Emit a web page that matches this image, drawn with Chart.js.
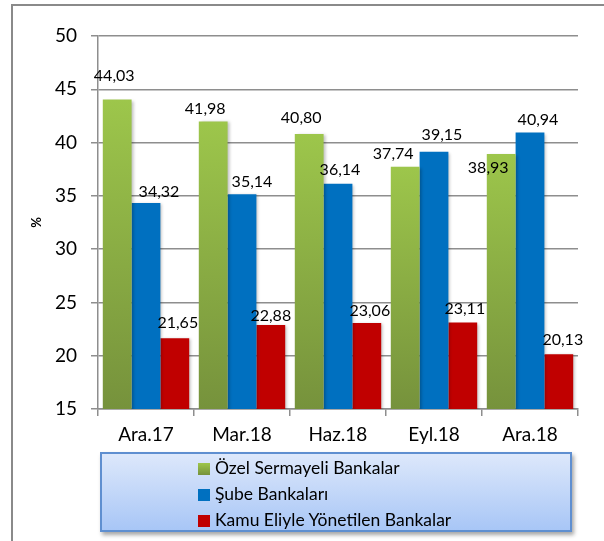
<!DOCTYPE html>
<html>
<head>
<meta charset="utf-8">
<script src="https://cdn.jsdelivr.net/npm/chart.js@4"></script>
<style>
  html, body { margin: 0; padding: 0; background: #fff; }
  #wrap { position: relative; width: 604px; height: 541px; overflow: hidden; font-family: Lato, sans-serif; }
  #frame { position: absolute; left: 11px; top: 4px; right: -4px; bottom: -4px; border-left: 2px solid #8a8a8a; border-top: 2px solid #8a8a8a; }
  #chart { position: absolute; left: 0; top: 0; }
  #legend {
    position: absolute; left: 100px; top: 452px; width: 468px; height: 76px;
    border: 2px solid #5f8fd0; background: linear-gradient(to bottom, #dde8fb, #a8c6f6);
    box-shadow: 2px 3px 4px rgba(0,0,0,0.35);
  }
  #legend .item { position: absolute; left: 96px; height: 26px; line-height: 26px; font-size: 17.5px; color: #000; white-space: nowrap; }
  #legend .sw { display: inline-block; width: 12px; height: 12px; margin-right: 5px; vertical-align: -1px; }
</style>
</head>
<body>
<div id="wrap">
  <div id="frame"></div>
  <canvas id="chart" width="604" height="541"></canvas>
  <div id="legend"></div>
</div>
<script>
const categories = ['Ara.17', 'Mar.18', 'Haz.18', 'Eyl.18', 'Ara.18'];
const ozelValues = [44.03, 41.98, 40.80, 37.74, 38.93];
const subeValues = [34.32, 35.14, 36.14, 39.15, 40.94];
const kamuValues = [21.65, 22.88, 23.06, 23.11, 20.13];
const seriesNames = ['Özel Sermayeli Bankalar', 'Şube Bankaları', 'Kamu Eliyle Yönetilen Bankalar'];

// label nudges [dx, rise above bar top], like the hand-placed excel labels
const labelNudge = [
    [[-3, 24], [-8, 13], [-8, 16], [-12, 13], [-13, -14]],
    [[13, 11], [10, 13], [2, 14], [8, 17], [8, 13]],
    [[3, 15], [0, 9], [3, 12], [2, 14], [4, 14]]
];

const fmt = v => v.toFixed(2).replace('.', ',');

function greenFill(c) {
    const chart = c.chart;
    if (!chart.chartArea || c.type !== 'data') return '#8fb24a';
    const y = chart.scales.y;
    const g = chart.ctx.createLinearGradient(0, y.getPixelForValue(c.raw), 0, y.bottom);
    g.addColorStop(0, '#9dc64b');
    g.addColorStop(1, '#76923c');
    return g;
}

const valueLabels = {
    id: 'valueLabels',
    afterDatasetsDraw(chart) {
        const ctx = chart.ctx;
        ctx.save();
        ctx.font = '16px Lato';
        ctx.fillStyle = '#000';
        ctx.textAlign = 'center';
        ctx.textBaseline = 'middle';
        chart.data.datasets.forEach((ds, di) => {
            chart.getDatasetMeta(di).data.forEach((bar, i) => {
                const n = labelNudge[di][i];
                ctx.fillText(fmt(ds.data[i]), bar.x + n[0], bar.y - n[1]);
            });
        });
        ctx.restore();
    }
};

const barShadow = {
    id: 'barShadow',
    beforeDatasetsDraw(chart) {
        const ctx = chart.ctx;
        ctx.save();
        ctx.shadowColor = 'rgba(0,0,0,0.25)';
        ctx.shadowOffsetX = 2;
        ctx.shadowOffsetY = 1;
        ctx.shadowBlur = 3;
    },
    afterDatasetsDraw(chart) {
        chart.ctx.restore();
    }
};

const chart = new Chart(document.getElementById('chart').getContext('2d'), {
    type: 'bar',
    data: {
        labels: categories,
        datasets: [
            { label: seriesNames[0], data: ozelValues, backgroundColor: greenFill },
            { label: seriesNames[1], data: subeValues, backgroundColor: '#0070c0' },
            { label: seriesNames[2], data: kamuValues, backgroundColor: '#c00000' }
        ]
    },
    options: {
        responsive: false,
        animation: false,
        datasets: { bar: { barPercentage: 1, categoryPercentage: 0.9 } },
        layout: { padding: { left: 24, top: 36, right: 26, bottom: 92 } },
        scales: {
            x: {
                grid: { drawOnChartArea: false, offset: true, tickLength: 7, color: '#8e8e8e', lineWidth: 1.5 },
                border: { color: '#8e8e8e', width: 1.5 },
                ticks: { color: '#000', font: { family: 'Lato', size: 19 }, padding: 7 },
                afterFit: s => { s.height = 40; }
            },
            y: {
                min: 15, max: 50,
                grid: { color: '#8e8e8e', lineWidth: 1.5, tickLength: 7 },
                border: { color: '#8e8e8e', width: 1.5 },
                ticks: { stepSize: 5, color: '#000', font: { family: 'Lato', size: 19 }, padding: 14 },
                title: { display: true, text: '%', color: '#000', font: { family: 'Lato', size: 13, weight: 'bold' }, padding: { top: 5, bottom: 0 } },
                afterFit: s => { s.width = 74; }
            }
        },
        plugins: {
            legend: { display: false },
            tooltip: { enabled: false }
        }
    },
    plugins: [barShadow, valueLabels]
});

// legend as a boxed list, like the excel one
const legendEl = document.getElementById('legend');
const swatches = ['linear-gradient(to bottom, #9dc64b, #76923c)', '#0070c0', '#c00000'];
seriesNames.forEach((name, i) => {
    const item = document.createElement('div');
    item.className = 'item';
    item.style.top = (1 + i * 26) + 'px';
    item.innerHTML = '<span class="sw" style="background:' + swatches[i] + '"></span>' + name;
    legendEl.appendChild(item);
});
</script>
</body>
</html>
